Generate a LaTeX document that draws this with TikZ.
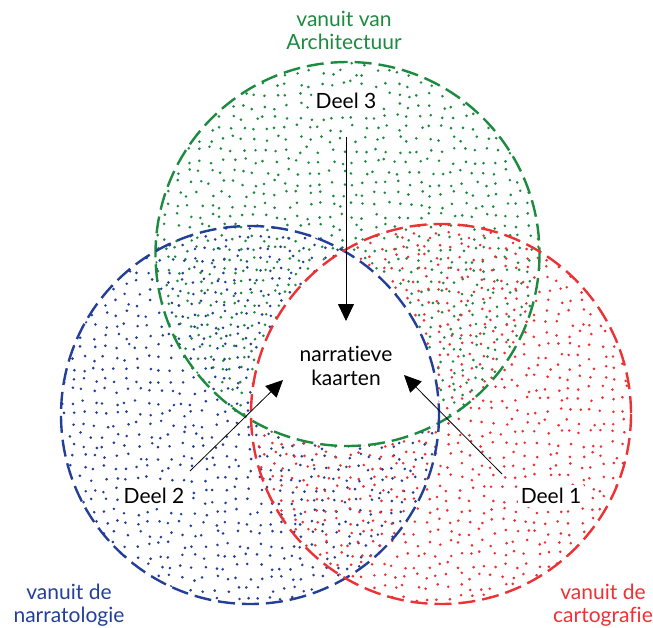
\documentclass[tikz,border=0pt]{standalone}
\usepackage{fontspec}
\setmainfont[Ligatures=NoCommon]{Lato}
\usetikzlibrary{arrows.meta}
\definecolor{archgreen}{HTML}{1C8B3F}
\definecolor{narrblue}{HTML}{233F98}
\definecolor{cartred}{HTML}{EE3134}
\tikzset{
  ring/.style={line width=2.4pt, dash pattern=on 17pt off 7pt},
  partname/.style={font=\fontsize{21}{25}\selectfont, fill=white, inner sep=3pt},
  centretext/.style={font=\fontsize{21}{24}\selectfont, align=center},
  viewpoint/.style={font=\fontsize{21}{23}\selectfont, align=center},
  pointer/.style={-{Triangle[length=17pt,width=16pt]}, line width=0.8pt},
  speck/.style={radius=1.45},
}
% jittered field of small dots inside a circle: centre x, centre y, radius, colour
\newcommand\dotfield[4]{%
  \begin{scope}
    \clip (#1,#2) circle[radius=#3];
    \foreach \i in {0,...,35}{
      \foreach \j in {0,...,35}{
        \pgfmathsetmacro\px{#1-#3+\i*11+3.3*rand}
        \pgfmathsetmacro\py{#2-#3+\j*11+3.3*rand}
        \fill[#4] (\px,\py) circle[speck];
      }
    }
  \end{scope}}
\begin{document}
\begin{tikzpicture}[x=1pt,y=-1pt]
\useasboundingbox (0,0) rectangle (653,628);
\pgfmathsetseed{4242}

% circle centres
\coordinate (gc) at (347.5,254);
\coordinate (bc) at (250,415);
\coordinate (rc) at (441,414);

% dotted fillings
\dotfield{347.5}{254}{192}{archgreen}
\dotfield{250}{415}{189}{narrblue}
\dotfield{441}{414}{190}{cartred}

% the common part of all three stays blank
\begin{scope}
  \clip (gc) circle[radius=192];
  \clip (bc) circle[radius=189];
  \fill[white] (rc) circle[radius=190];
\end{scope}

% dashed outlines
\draw[ring, archgreen] (gc) circle[radius=192];
\draw[ring, narrblue] (bc) circle[radius=189];
\draw[ring, cartred] (rc) circle[radius=190];

% texts
\node[partname] (d3) at (346,101) {Deel 3};
\node[partname] (d2) at (154,496) {Deel 2};
\node[partname] (d1) at (551,496) {Deel 1};
\node[centretext] (nk) at (346,366) {narratieve\\kaarten};

\node[viewpoint, text=archgreen] (va) at (344,30) {vanuit van\\Architectuur};
\node[viewpoint, text=narrblue] (vn) at (69,605) {vanuit de\\narratologie};
\node[viewpoint, text=cartred] (vc) at (603,605) {vanuit de\\cartografie};

% arrows into the centre
\coordinate (d3tail) at (346,137);
\coordinate (nktop) at (346,321);
\coordinate (d2tail) at (190,471);
\coordinate (nkleft) at (283,380);
\coordinate (d1tail) at (502,474);
\coordinate (nkright) at (404,375);
\draw[pointer] (d3tail) -- (nktop);
\draw[pointer] (d2tail) -- (nkleft);
\draw[pointer] (d1tail) -- (nkright);
\end{tikzpicture}
\end{document}
